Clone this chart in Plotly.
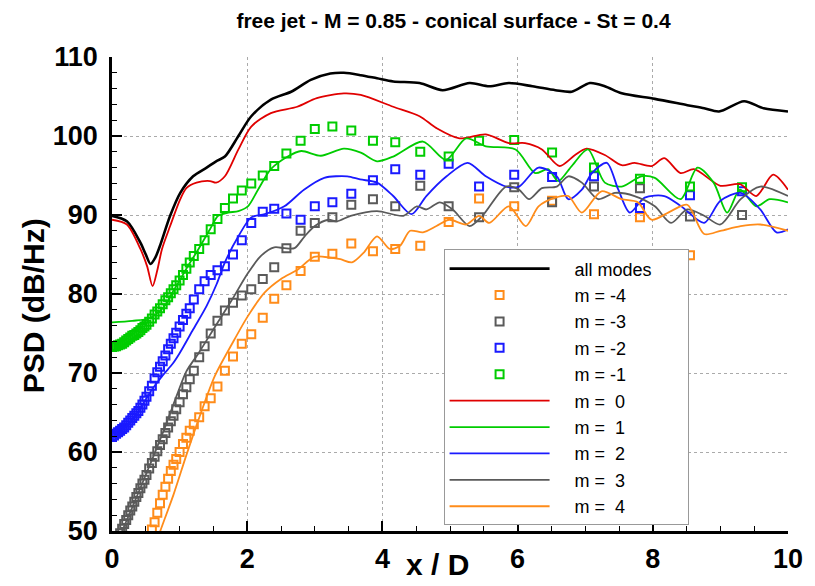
import plotly.graph_objects as go

# ---------------- data ----------------
# all modes (black line)
all_x = [0, 0.22, 0.42, 0.5, 0.57, 0.64, 0.71, 0.86, 1.01, 1.2, 1.4, 1.54, 1.67, 1.87, 2.06, 2.35,
         2.65, 2.94, 3.23, 3.43, 3.68, 3.92, 4.16, 4.55, 4.89, 5.29, 5.58, 5.87, 6.22, 6.56, 6.8,
         7.07, 7.29, 7.54, 8.03, 8.51, 8.76, 8.98, 9.35, 9.64, 10.0]
all_y = [89.9, 89.2, 86.5, 85.0, 83.8, 84.6, 86.1, 89.9, 92.8, 94.9, 96.0, 96.8, 97.4, 100.0, 102.5, 104.6,
         105.6, 107.1, 107.9, 108.0, 107.7, 107.3, 106.9, 106.7, 105.8, 106.7, 106.3, 106.7, 106.3, 105.8, 105.6,
         106.7, 106.3, 105.4, 104.7, 103.9, 103.5, 103.1, 104.4, 103.5, 103.1]

# m = 0 (red line)
m0_x = [0, 0.22, 0.42, 0.52, 0.6, 0.67, 0.74, 0.86, 1.01, 1.1, 1.25, 1.45, 1.54, 1.67, 1.87, 2.06, 2.35,
        2.74, 3.03, 3.43, 3.68, 4.16, 4.55, 4.8, 5.14, 5.53, 5.87, 6.11, 6.36, 6.62, 6.85, 7.02, 7.29,
        7.54, 7.73, 7.98, 8.17, 8.41, 8.61, 9.0, 9.29, 9.53, 9.78, 10.0]
m0_y = [89.4, 88.8, 85.7, 83.5, 81.0, 83.0, 85.7, 88.6, 92.0, 93.4, 94.1, 94.3, 94.1, 94.9, 98.3, 101.2, 102.9,
        103.7, 104.8, 105.4, 105.2, 103.7, 102.5, 101.0, 99.7, 100.2, 99.1, 99.1, 98.3, 96.2, 97.6, 98.4, 97.6,
        96.3, 96.6, 96.2, 97.2, 95.3, 95.8, 93.7, 93.9, 92.4, 95.1, 93.2]

# m = 1 (green line)
m1_x = [0, 0.3, 0.55, 0.7, 0.79, 0.9, 1.0, 1.1, 1.28, 1.45, 1.57, 1.72, 1.87, 2.01, 2.16, 2.35, 2.6, 2.8,
        3.09, 3.43, 3.68, 3.92, 4.16, 4.6, 4.94, 5.24, 5.53, 5.97, 6.26, 6.45, 6.6, 6.8, 7.04, 7.29, 7.54,
        7.83, 8.03, 8.41, 8.66, 8.9, 9.1, 9.29, 9.53, 9.73, 10.0]
m1_y = [76.4, 76.6, 76.9, 77.8, 78.6, 80.3, 81.7, 83.2, 85.7, 88.2, 89.9, 90.3, 90.5, 91.1, 93.2, 95.8, 97.4, 98.1,
        97.5, 98.4, 97.9, 96.8, 97.4, 99.3, 97.0, 99.7, 98.7, 98.3, 95.3, 95.8, 94.3, 96.2, 98.3, 94.1, 93.6,
        94.9, 94.7, 92.0, 96.0, 94.1, 90.3, 93.2, 91.1, 92.0, 91.6]

# m = 2 (blue line)
m2_x = [0, 0.3, 0.6, 0.75, 0.9, 1.0, 1.2, 1.4, 1.55, 1.67, 1.87, 2.06, 2.26, 2.55, 2.84, 3.14, 3.48, 3.67,
        3.92, 4.16, 4.43, 4.65, 4.95, 5.26, 5.53, 5.83, 6.02, 6.31, 6.58, 6.75, 6.95, 7.1, 7.32, 7.49, 7.66,
        7.88, 8.17, 8.42, 8.76, 9.0, 9.3, 9.59, 9.83, 10.0]
m2_y = [61.7, 64.1, 68.0, 69.7, 71.2, 72.5, 75.5, 78.5, 81.3, 84.0, 87.3, 89.7, 90.1, 91.1, 93.2, 94.7, 94.9, 94.5,
        94.1, 92.4, 90.1, 92.4, 94.9, 96.6, 94.9, 93.6, 93.6, 96.0, 94.9, 92.0, 93.2, 95.3, 96.6, 93.2, 90.3,
        92.2, 92.4, 91.1, 89.0, 91.8, 92.8, 90.7, 87.8, 88.2]

# m = 3 (grey line)
m3_x = [0, 0.3, 0.6, 0.8, 0.96, 1.1, 1.28, 1.52, 1.77, 2.0, 2.2, 2.4, 2.55, 2.7, 2.85, 3.0, 3.2, 3.33, 3.53,
        3.92, 4.31, 4.51, 4.65, 4.85, 5.04, 5.29, 5.48, 5.83, 6.02, 6.17, 6.36, 6.58, 6.75, 6.95, 7.19, 7.44,
        7.73, 8.03, 8.27, 8.51, 8.76, 9.0, 9.3, 9.59, 10.0]
m3_y = [47.0, 53.0, 59.2, 63.5, 67.2, 70.2, 72.5, 75.8, 79.2, 82.5, 84.8, 85.9, 85.8, 85.8, 87.3, 88.6, 89.4, 89.2,
        89.9, 90.5, 89.9, 91.1, 90.7, 91.6, 90.7, 88.6, 89.9, 93.6, 93.2, 92.0, 93.4, 93.6, 94.9, 94.1, 92.0,
        92.8, 92.4, 91.1, 89.0, 90.7, 89.9, 88.8, 92.0, 93.6, 92.4]

# m = 4 (orange line)
m4_x = [0.5, 0.71, 0.91, 1.1, 1.28, 1.52, 1.77, 2.01, 2.26, 2.5, 2.75, 2.99, 3.23, 3.38, 3.55, 3.72, 3.92,
        4.11, 4.26, 4.41, 4.6, 4.8, 4.99, 5.24, 5.43, 5.58, 5.87, 6.12, 6.31, 6.56, 6.75, 6.95, 7.24, 7.54,
        7.78, 7.98, 8.27, 8.51, 8.76, 9.0, 9.3, 9.59, 10.0]
m4_y = [44.6, 49.9, 54.6, 59.6, 64.1, 69.6, 73.6, 77.2, 80.2, 81.9, 83.1, 84.7, 84.6, 84.4, 84.0, 85.2, 87.3,
        85.7, 86.1, 88.0, 87.8, 88.6, 89.4, 88.8, 89.9, 89.0, 91.1, 88.6, 91.1, 92.2, 92.4, 90.3, 93.0, 92.0,
        91.6, 89.4, 90.5, 91.3, 87.6, 88.0, 88.6, 88.8, 88.0]

# axial stations of the symbol series (m < 0)
sym_x = [0, 0.03, 0.06, 0.09, 0.12, 0.15, 0.18, 0.21, 0.24, 0.27, 0.30, 0.33, 0.36, 0.39, 0.42, 0.45,
         0.48, 0.51, 0.55, 0.59, 0.63, 0.67, 0.71, 0.75, 0.79, 0.83, 0.87, 0.91, 0.95, 1.00, 1.05, 1.10,
         1.15, 1.21, 1.29, 1.37, 1.46, 1.56, 1.67, 1.79, 1.92, 2.06, 2.23, 2.40, 2.58, 2.79, 3.00, 3.26,
         3.54, 3.86, 4.19, 4.56, 4.98, 5.43, 5.95, 6.51, 7.13, 7.81, 8.55, 9.32]

mm1_y = [73.3, 73.35, 73.4, 73.5, 73.6, 73.7, 73.9, 74.1, 74.3, 74.5, 74.7, 74.8, 75.0, 75.2, 75.4, 75.7,
         75.9, 76.1, 76.5, 76.9, 77.4, 77.8, 78.2, 78.7, 79.2, 79.6, 80.1, 80.6, 81.1, 81.7, 82.4, 83.2,
         84.0, 84.8, 85.7, 86.8, 88.2, 89.5, 90.9, 92.1, 93.1, 94.0, 95.0, 96.2, 97.8, 99.4, 100.9, 101.2,
         100.7, 99.4, 99.2, 98.0, 97.4, 99.4, 99.5, 97.9, 96.0, 94.6, 93.6, 93.5]

mm2_y = [61.9, 62.1, 62.3, 62.5, 62.7, 62.9, 63.1, 63.4, 63.7, 64.0, 64.3, 64.6, 64.9, 65.2, 65.6, 66.0,
         66.5, 67.0, 67.7, 68.4, 69.3, 70.1, 70.8, 71.5, 72.2, 73.0, 73.7, 74.4, 75.1, 75.9, 76.7, 77.5,
         78.2, 79.3, 80.6, 81.6, 82.4, 83.0, 83.5, 85.0, 86.8, 89.0, 90.4, 90.8, 90.2, 89.4, 91.1, 91.6,
         92.7, 94.4, 95.8, 95.1, 96.5, 93.6, 95.1, 94.8, 94.9, 90.9, 92.5, 93.0]

mm3_y = [47.5, 48.0, 48.6, 49.2, 49.7, 50.3, 50.9, 51.4, 52.0, 52.6, 53.1, 53.7, 54.3, 54.8, 55.4, 56.0,
         56.5, 57.1, 57.9, 58.6, 59.4, 60.1, 60.9, 61.6, 62.4, 63.1, 63.9, 64.6, 65.4, 66.3, 67.3, 68.2,
         69.2, 70.3, 72.0, 73.4, 75.0, 76.6, 77.9, 78.9, 79.8, 80.6, 81.9, 83.4, 85.8, 88.0, 89.0, 89.7,
         91.3, 92.0, 91.1, 93.7, 91.1, 89.7, 93.5, 91.6, 93.6, 93.4, 89.8, 90.0]

mm4_y = [None, None, None, None, None, None, None, None, None, None, None, None, None, None, None, 47.1,
         47.8, 48.4, 49.3, 50.2, 51.1, 52.3, 53.5, 54.6, 55.6, 56.6, 57.6, 58.4, 59.1, 60.0, 61.0, 61.8,
         62.7, 63.5, 64.4, 65.8, 66.8, 68.3, 70.3, 72.1, 73.7, 74.9, 77.0, 79.4, 81.1, 82.9, 84.7, 85.1,
         86.4, 85.4, 85.7, 86.1, 89.1, 92.1, 91.1, 91.8, 90.1, 89.7, 84.9, None]

y_ticks = [50, 60, 70, 80, 90, 100, 110]
x_ticks = [0, 2, 4, 6, 8, 10]

C_BLACK = "#000000"
C_RED = "#e00000"
C_GREEN = "#00cc00"
C_BLUE = "#1a1aff"
C_GREY = "#5a5a5a"
C_ORANGE = "#ff8c1a"

FONT = "Liberation Sans, Arial, Helvetica, sans-serif"
NB = "\u00a0"

fig = go.Figure()


def add_line(x, y, name, color, width):
    fig.add_trace(go.Scatter(x=x, y=y, mode="lines", name=name,
                             line=dict(color=color, width=width, shape="spline", smoothing=0.8)))


def add_sym(y, name, color):
    fig.add_trace(go.Scatter(x=sym_x, y=y, mode="markers", name=name,
                             marker=dict(symbol="square-open", size=8, color=color,
                                         line=dict(color=color, width=2))))


def lab(s):
    return NB * 4 + s


add_line(all_x, all_y, lab("all modes") + NB * 6, C_BLACK, 2.6)
add_sym(mm4_y, lab("m = -4"), C_ORANGE)
add_sym(mm3_y, lab("m = -3"), C_GREY)
add_sym(mm2_y, lab("m = -2"), C_BLUE)
add_sym(mm1_y, lab("m = -1"), C_GREEN)
add_line(m0_x, m0_y, lab("m =" + NB * 2 + "0"), C_RED, 1.8)
add_line(m1_x, m1_y, lab("m =" + NB * 2 + "1"), C_GREEN, 1.8)
add_line(m2_x, m2_y, lab("m =" + NB * 2 + "2"), C_BLUE, 1.8)
add_line(m3_x, m3_y, lab("m =" + NB * 2 + "3"), C_GREY, 1.8)
add_line(m4_x, m4_y, lab("m =" + NB * 2 + "4"), C_ORANGE, 1.8)

fig.update_layout(
    width=815, height=586,
    margin=dict(l=112, r=20, t=57, b=54),
    paper_bgcolor="white", plot_bgcolor="white",
    font=dict(family=FONT, color="black"),
    title=dict(text="<b>free jet - M = 0.85 - conical surface - St = 0.4</b>",
               x=(112 + 795) / 2 / 815, xanchor="center", y=0.978, yanchor="top",
               font=dict(size=21, family=FONT, color="black")),
    legend=dict(x=0.4905, y=0.594, xanchor="left", yanchor="top",
                bgcolor="white", bordercolor="#999", borderwidth=1,
                font=dict(size=18, family=FONT, color="black"),
                itemwidth=100, tracegroupgap=0),
    showlegend=True,
    annotations=[
        dict(text="<b>x / D</b>", xref="paper", yref="paper", x=0.482, y=-0.071,
             xanchor="center", yanchor="middle", showarrow=False,
             font=dict(size=30, family=FONT, color="black")),
        dict(text="<b>PSD (dB/Hz)</b>", xref="paper", yref="paper", x=-0.117, y=0.476,
             xanchor="center", yanchor="middle", showarrow=False, textangle=-90,
             font=dict(size=30, family=FONT, color="black")),
    ],
)

fig.update_xaxes(range=[0, 10], tickvals=x_ticks, ticktext=[f"<b>{v}</b>" for v in x_ticks],
                 showline=True, linecolor="black", linewidth=2.5,
                 ticks="inside", ticklen=10, tickwidth=2, tickcolor="black",
                 minor=dict(dtick=0.5, ticks="inside", ticklen=5, tickwidth=1, tickcolor="black",
                            showgrid=False),
                 showgrid=True, gridcolor="#aaaaaa", griddash="dot", gridwidth=1,
                 zeroline=False, tickfont=dict(size=27, family=FONT), ticklabelstandoff=2)

fig.update_yaxes(range=[50, 110], tickvals=y_ticks, ticktext=[f"<b>{v}</b>" for v in y_ticks],
                 showline=True, linecolor="black", linewidth=2.5,
                 ticks="inside", ticklen=10, tickwidth=2, tickcolor="black",
                 minor=dict(dtick=2, ticks="inside", ticklen=5, tickwidth=1, tickcolor="black",
                            showgrid=False),
                 showgrid=True, gridcolor="#aaaaaa", griddash="dot", gridwidth=1,
                 zeroline=False, tickfont=dict(size=27, family=FONT), ticklabelstandoff=6)

fig.write_html("out.html")
